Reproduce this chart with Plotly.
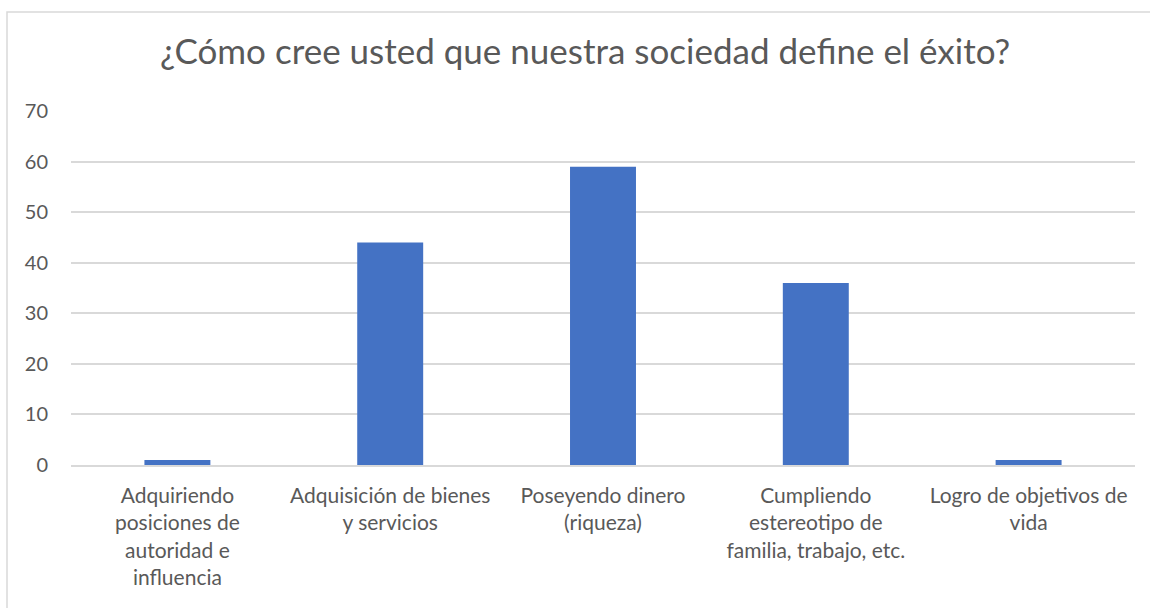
import plotly.graph_objects as go

# Survey answers and counts
categories = [
    "Adquiriendo posiciones de autoridad e influencia",
    "Adquisición de bienes y servicios",
    "Poseyendo dinero (riqueza)",
    "Cumpliendo estereotipo de familia, trabajo, etc.",
    "Logro de objetivos de vida",
]
tick_labels = [
    "Adquiriendo<br>posiciones de<br>autoridad e<br>influencia",
    "Adquisición de bienes<br>y servicios",
    "Poseyendo dinero<br>(riqueza)",
    "Cumpliendo<br>estereotipo de<br>familia, trabajo, etc.",
    "Logro de objetivos de<br>vida",
]
values = [1, 44, 59, 36, 1]
y_ticks = [0, 10, 20, 30, 40, 50, 60, 70]

title_text = "¿Cómo cree usted que nuestra sociedad define el éxito?"

FONT = "Lato, 'Open Sans', sans-serif"
TEXT_COLOR = "#595959"
GRID_COLOR = "#d9d9d9"

W, H = 1150, 608
left, right, top, bottom = 71, 1135, 111, 465

fig = go.Figure(
    go.Bar(
        x=categories,
        y=values,
        marker=dict(color="#4472c4", line=dict(width=0)),
        hoverinfo="x+y",
    )
)

pw = right - left
ph = bottom - top


def px_x(p):
    return (p - left) / pw


def px_y(p):
    return (bottom - p) / ph


fig.update_layout(
    width=W,
    height=H,
    margin=dict(l=left, r=W - right, t=top, b=H - bottom, pad=0),
    paper_bgcolor="white",
    plot_bgcolor="white",
    bargap=0.69,
    showlegend=False,
    font=dict(family=FONT, color=TEXT_COLOR, size=21),
    annotations=[
        dict(
            text=title_text,
            xref="paper",
            yref="paper",
            x=px_x(585),
            y=px_y(50),
            xanchor="center",
            yanchor="middle",
            showarrow=False,
            font=dict(family=FONT, size=35, color=TEXT_COLOR),
        )
    ],
    shapes=[
        # outer chart frame
        dict(
            type="rect",
            xref="paper",
            yref="paper",
            x0=px_x(7),
            x1=px_x(1170),
            y0=px_y(630),
            y1=px_y(12),
            line=dict(color=GRID_COLOR, width=1.5),
            fillcolor="rgba(0,0,0,0)",
            layer="below",
        )
    ],
)

fig.update_xaxes(
    tickmode="array",
    tickvals=categories,
    ticktext=tick_labels,
    showgrid=False,
    showline=True,
    linecolor=GRID_COLOR,
    linewidth=1.5,
    ticks="",
    tickfont=dict(size=21, color=TEXT_COLOR),
    ticklabelstandoff=11,
    fixedrange=True,
)
fig.update_yaxes(
    range=[0, 70],
    tickmode="array",
    tickvals=y_ticks,
    showgrid=True,
    gridcolor=GRID_COLOR,
    gridwidth=1.5,
    zeroline=False,
    showline=False,
    ticks="",
    tickfont=dict(size=20, color=TEXT_COLOR),
    ticklabelstandoff=22,
    fixedrange=True,
)

fig.write_html("out.html")
